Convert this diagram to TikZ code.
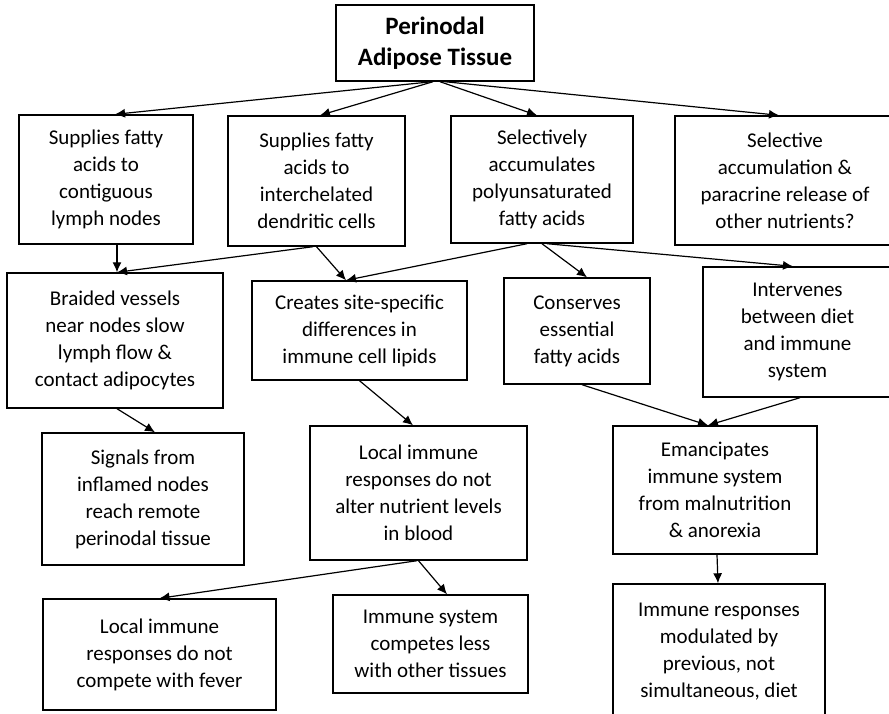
\documentclass[tikz,border=0pt]{standalone}
\usepackage{fontspec}
\setmainfont{Carlito}
\usepackage{tikz}
\usetikzlibrary{arrows.meta}

\begin{document}
\begin{tikzpicture}[x=1pt, y=-1pt, auto,
    >={Latex[length=10pt,width=9pt]},
    box/.style={draw, line width=1.4pt, align=center, inner sep=0pt,
      font=\fontsize{21}{27}\selectfont},
    arr/.style={->, line width=1.2pt}]
      \clip (0,0) rectangle (889,713);
      \node[box, font=\bfseries\fontsize{25}{31}\selectfont, minimum width=198, minimum height=76] (P) at (435, 43) {Perinodal\\Adipose Tissue};
      \node[box, minimum width=174, minimum height=129] (A) at (106, 179.5) {Supplies fatty\\acids to\\contiguous\\lymph nodes};
      \node[box, minimum width=177, minimum height=130] (B) at (316.5, 181) {Supplies fatty\\acids to\\interchelated\\dendritic cells};
      \node[box, minimum width=182, minimum height=127] (C) at (542, 179.5) {Selectively\\accumulates\\polyunsaturated\\fatty acids};
      \node[box, minimum width=220, minimum height=129] (D) at (785, 180.5) {Selective\\accumulation \&\\paracrine release of\\other nutrients?};
      \node[box, minimum width=216, minimum height=135] (E) at (115, 340.5) {Braided vessels\\near nodes slow\\lymph flow \&\\contact adipocytes};
      \node[box, minimum width=215, minimum height=99] (F) at (359.5, 330.5) {Creates site-specific\\differences in\\immune cell lipids};
      \node[box, minimum width=146, minimum height=106] (G) at (577, 331) {Conserves\\essential\\fatty acids};
      \node[box, minimum width=189, minimum height=130] (H) at (797.5, 332) {Intervenes\\between diet\\and immune\\system};
      \node[box, minimum width=202, minimum height=132] (I) at (143, 499) {Signals from\\inflamed nodes\\reach remote\\perinodal tissue};
      \node[box, minimum width=217, minimum height=134] (J) at (418.5, 493) {Local immune\\responses do not\\alter nutrient levels\\in blood};
      \node[box, minimum width=204, minimum height=128] (K) at (715, 490) {Emancipates\\immune system\\from malnutrition\\\& anorexia};
      \node[box, minimum width=233, minimum height=111] (L) at (159.5, 654.5) {Local immune\\responses do not\\compete with fever};
      \node[box, minimum width=195, minimum height=98] (M) at (430.5, 644) {Immune system\\competes less\\with other tissues};
      \node[box, minimum width=212, minimum height=136] (N) at (719, 652) {Immune responses\\modulated by\\previous, not\\simultaneous, diet};
      \draw[arr] ([xshift=-3pt]P.south) to ([xshift=9pt]A.north);
      \draw[arr] ([xshift=-2pt]P.south) to ([xshift=3.5pt]B.north);
      \draw[arr] ([xshift=5pt]P.south) to ([xshift=-5pt]C.north);
      \draw[arr] ([xshift=10pt]P.south) to ([xshift=-6pt]D.north);
      \draw[arr] ([xshift=11pt]A.south) to ([xshift=2pt]E.north);
      \draw[arr] ([xshift=-3.5pt]B.south) to ([xshift=2pt]E.north);
      \draw[arr] (B.south) to ([xshift=-13.5pt]F.north);
      \draw[arr] ([xshift=-15pt]C.south) to ([xshift=-13.5pt]F.north);
      \draw[arr] (C.south) to ([xshift=10pt]G.north);
      \draw[arr] ([xshift=5pt]C.south) to ([xshift=-4.5pt]H.north);
      \draw[arr] ([xshift=2pt]E.south) to ([xshift=12pt]I.north);
      \draw[arr] (F.south) to ([xshift=-5.5pt]J.north);
      \draw[arr] ([xshift=5pt]G.south) to ([xshift=-7pt]K.north);
      \draw[arr] ([xshift=2.5pt]H.south) to ([xshift=-7pt]K.north);
      \draw[arr] ([xshift=-1.5pt]J.south) to (L.north);
      \draw[arr] (J.south) to ([xshift=16.5pt]M.north);
      \draw[arr] ([xshift=2pt]K.south) to ([xshift=-1pt]N.north);
    \end{tikzpicture}
\end{document}
